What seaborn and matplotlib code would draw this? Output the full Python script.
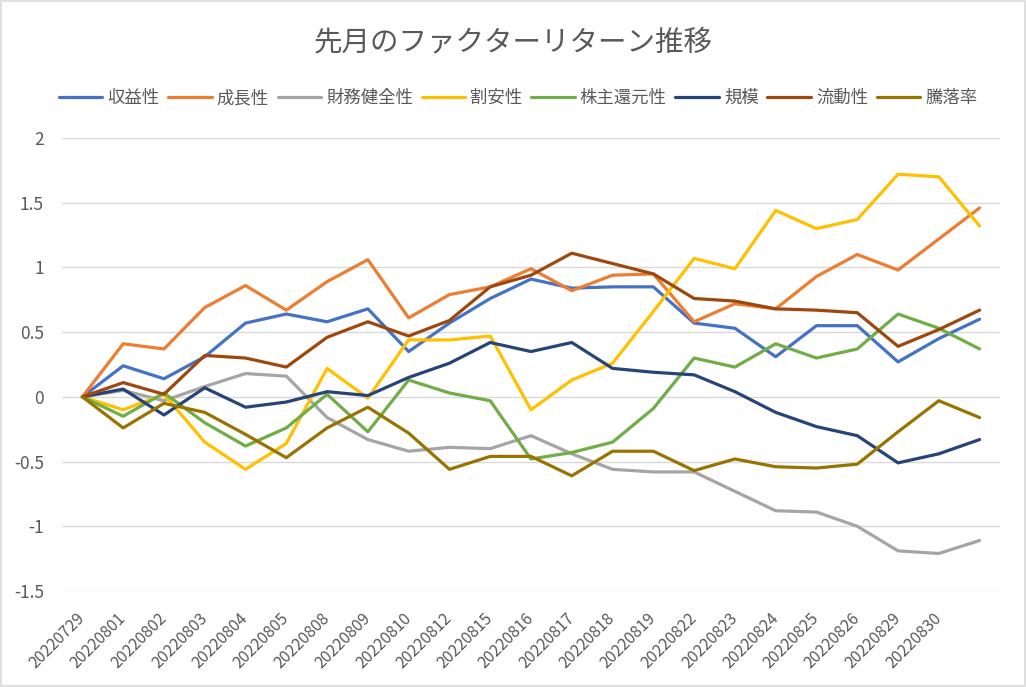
import matplotlib

matplotlib.use("Agg")
import matplotlib.pyplot as plt
import pandas as pd
import seaborn as sns
from matplotlib.patches import Rectangle

dates = [
    "20220729", "20220801", "20220802", "20220803", "20220804", "20220805",
    "20220808", "20220809", "20220810", "20220812", "20220815", "20220816",
    "20220817", "20220818", "20220819", "20220822", "20220823", "20220824",
    "20220825", "20220826", "20220829", "20220830", "",
]

profitability = [0, 0.24, 0.14, 0.31, 0.57, 0.64, 0.58, 0.68, 0.35, 0.57, 0.76, 0.91,
                 0.84, 0.85, 0.85, 0.57, 0.53, 0.31, 0.55, 0.55, 0.27, 0.45, 0.60]
growth = [0, 0.41, 0.37, 0.69, 0.86, 0.67, 0.89, 1.06, 0.61, 0.79, 0.85, 0.99,
          0.82, 0.94, 0.95, 0.58, 0.72, 0.68, 0.93, 1.10, 0.98, 1.22, 1.46]
soundness = [0, 0.05, -0.03, 0.08, 0.18, 0.16, -0.16, -0.33, -0.42, -0.39, -0.40, -0.30,
             -0.44, -0.56, -0.58, -0.58, -0.73, -0.88, -0.89, -1.00, -1.19, -1.21, -1.11]
value = [0, -0.10, 0.02, -0.35, -0.56, -0.36, 0.22, -0.01, 0.44, 0.44, 0.47, -0.10,
         0.13, 0.26, 0.66, 1.07, 0.99, 1.44, 1.30, 1.37, 1.72, 1.70, 1.32]
shareholder = [0, -0.15, 0.03, -0.20, -0.38, -0.24, 0.02, -0.27, 0.13, 0.03, -0.03, -0.48,
               -0.43, -0.35, -0.09, 0.30, 0.23, 0.41, 0.30, 0.37, 0.64, 0.53, 0.37]
size = [0, 0.06, -0.14, 0.07, -0.08, -0.04, 0.04, 0.01, 0.15, 0.26, 0.42, 0.35,
        0.42, 0.22, 0.19, 0.17, 0.04, -0.12, -0.23, -0.30, -0.51, -0.44, -0.33]
liquidity = [0, 0.11, 0.02, 0.32, 0.30, 0.23, 0.46, 0.58, 0.47, 0.59, 0.85, 0.94,
             1.11, 1.03, 0.95, 0.76, 0.74, 0.68, 0.67, 0.65, 0.39, 0.52, 0.67]
momentum = [0, -0.24, -0.05, -0.12, -0.29, -0.47, -0.24, -0.08, -0.28, -0.56, -0.46, -0.46,
            -0.61, -0.42, -0.42, -0.57, -0.48, -0.54, -0.55, -0.52, -0.27, -0.03, -0.16]

series_names = ["収益性", "成長性", "財務健全性", "割安性", "株主還元性", "規模", "流動性", "騰落率"]
series_values = [profitability, growth, soundness, value, shareholder, size, liquidity, momentum]
colors = ["#4472C4", "#ED7D31", "#A5A5A5", "#FFC000", "#70AD47", "#264478", "#9E480E", "#997300"]

rows = []
for name, vals in zip(series_names, series_values):
    for i, v in enumerate(vals):
        rows.append({"idx": i, "value": v, "factor": name})
df = pd.DataFrame(rows)

sns.set_theme(style="white")
plt.rcParams["font.family"] = ["Noto Sans CJK JP", "DejaVu Sans"]
text_color = "#595959"

fig = plt.figure(figsize=(10.26, 6.87), dpi=100)
ax = fig.add_axes([62 / 1026, 1 - 591 / 687, 938 / 1026, (591 - 138) / 687])

sns.lineplot(
    data=df,
    x="idx",
    y="value",
    hue="factor",
    hue_order=series_names,
    palette=colors,
    linewidth=2.3,
    sort=False,
    legend=False,
    ax=ax,
)

ax.set_xlim(-0.5, len(dates) - 0.5)
ax.set_ylim(-1.5, 2)
ax.set_yticks([-1.5, -1, -0.5, 0, 0.5, 1, 1.5, 2])
ax.set_yticklabels(["-1.5", "-1", "-0.5", "0", "0.5", "1", "1.5", "2"])
ax.set_xticks(range(len(dates)))
ax.set_xticklabels(dates, rotation=45, ha="right", va="center", rotation_mode="anchor")
ax.tick_params(axis="both", length=0, colors=text_color)
ax.tick_params(axis="x", pad=18, labelsize=11.5)
ax.tick_params(axis="y", pad=13, labelsize=12.5)
ax.set_xlabel("")
ax.set_ylabel("")
ax.grid(axis="y", color="#D9D9D9", linewidth=1)
ax.grid(axis="x", visible=False)
ax.set_axisbelow(True)
for spine in ax.spines.values():
    spine.set_visible(False)

handles = [plt.Line2D([], [], color=c, linewidth=2.3) for c in colors]
fig.legend(
    handles,
    series_names,
    loc="center",
    bbox_to_anchor=(0.505, 1 - 98 / 687),
    ncol=8,
    frameon=False,
    fontsize=12.5,
    labelcolor=text_color,
    handlelength=2.5,
    handletextpad=0.3,
    columnspacing=0.5,
)

fig.text(0.5, 1 - 42 / 687, "先月のファクターリターン推移", ha="center", va="center",
         fontsize=20.5, color=text_color)

fig.patches.append(Rectangle((0.001, 0.001), 0.998, 0.997, transform=fig.transFigure,
                             fill=False, edgecolor="#D9D9D9", linewidth=1.2))

fig.savefig("out.png", dpi=100)
plt.close(fig)
